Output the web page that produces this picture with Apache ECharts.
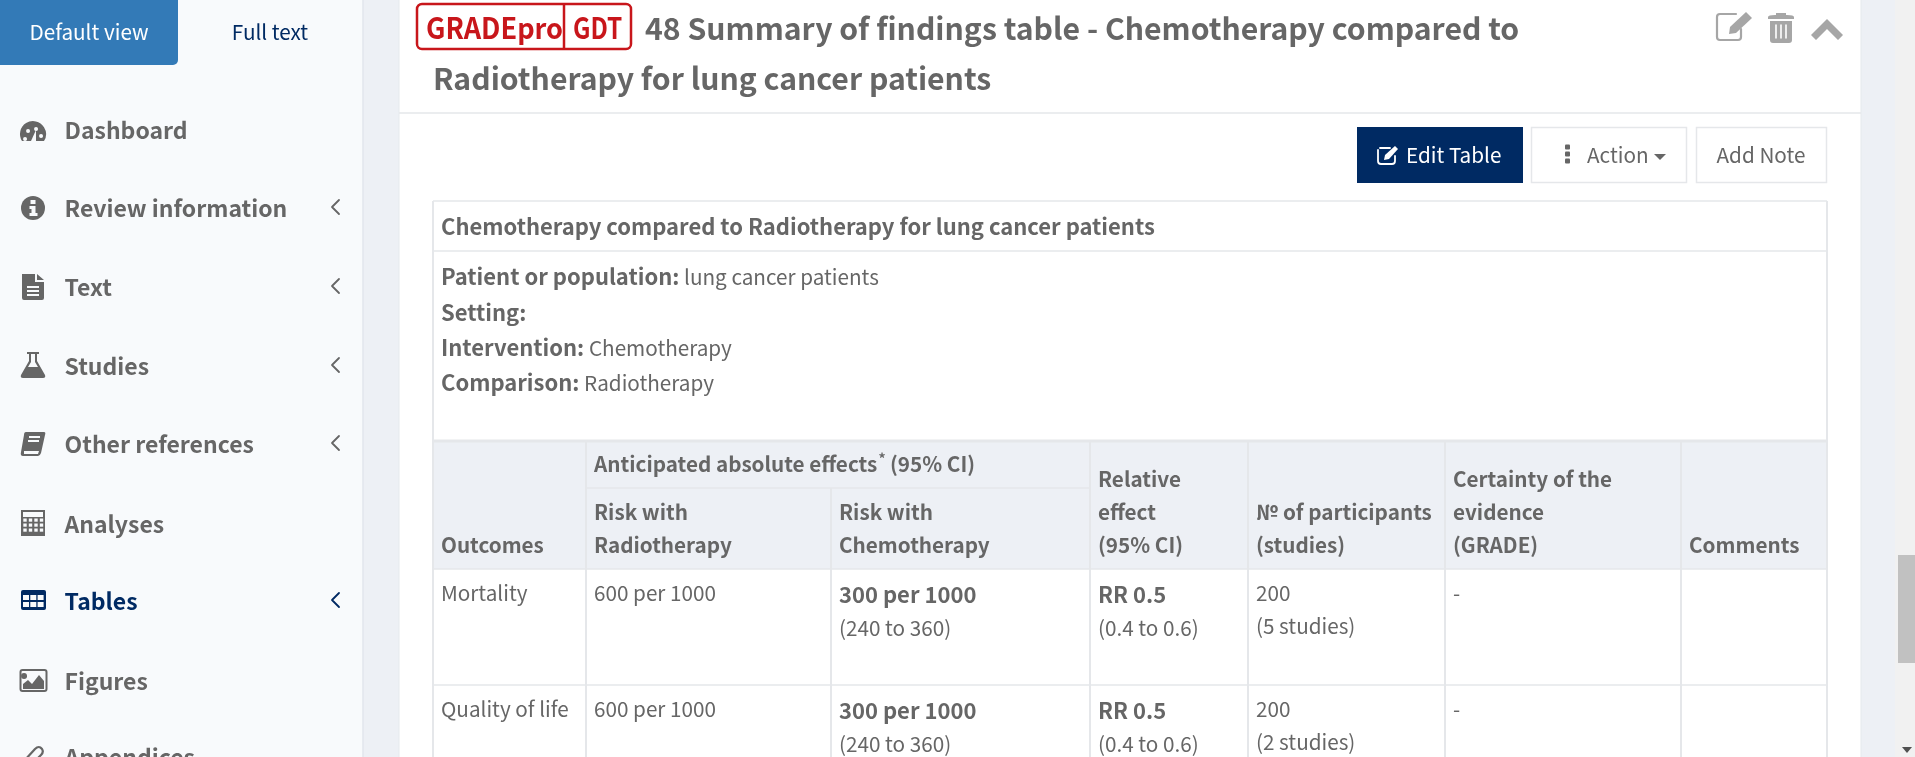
<!DOCTYPE html>
<html>
<head>
<meta charset="utf-8">
<title>Summary of findings table</title>
<script src="https://cdn.jsdelivr.net/npm/echarts@6/dist/echarts.min.js"></script>
<style>
html,body{margin:0;padding:0;overflow:hidden;background:#fff}
#main{width:1915px;height:757px}
</style>
</head>
<body>
<div id="main"></div>
<script>
// texts
var tabLabels = ['Default view', 'Full text'];
var sideItems = ['Dashboard', 'Review information', 'Text', 'Studies', 'Other references', 'Analyses', 'Tables', 'Figures', 'Appendices'];
var sideWithArrow = ['Review information', 'Text', 'Studies', 'Other references', 'Tables'];
var titleLines = ['48 Summary of findings table - Chemotherapy compared to', 'Radiotherapy for lung cancer patients'];
var logoWords = ['GRADEpro', 'GDT'];
var buttonLabels = ['Edit Table', 'Action', 'Add Note'];
var tableTitle = 'Chemotherapy compared to Radiotherapy for lung cancer patients';
var picoLabels = ['Patient or population:', 'Setting:', 'Intervention:', 'Comparison:'];
var picoValues = ['lung cancer patients', '', 'Chemotherapy', 'Radiotherapy'];
var spanHeader = ['Anticipated absolute effects', '*', '(95% CI)'];
var colHeaders = [
    ['Outcomes'],
    ['Risk with', 'Radiotherapy'],
    ['Risk with', 'Chemotherapy'],
    ['Relative', 'effect', '(95% CI)'],
    ['\u2116 of participants', '(studies)'],
    ['Certainty of the', 'evidence', '(GRADE)'],
    ['Comments']
];
var outcomes = ['Mortality', 'Quality of life'];
var riskControl = ['600 per 1000', '600 per 1000'];
var riskTreatment = ['300 per 1000', '300 per 1000'];
var riskCi = ['(240 to 360)', '(240 to 360)'];
var relEffect = ['RR 0.5', 'RR 0.5'];
var relCi = ['(0.4 to 0.6)', '(0.4 to 0.6)'];
var participants = ['200', '200'];
var studies = ['(5 studies)', '(2 studies)'];
var certainty = ['-', '-'];

// layout, px
var FONT = '"Noto Sans CJK SC","Noto Sans",sans-serif';
var GREY = '#666666', LINE = '#e5e7ea', HEAD = '#edf0f5', SIDE = '#f8fafc', NAVY = '#002a63', ICON = '#a6a6a6', RED = '#c8161b';
var BODY = 20.7, STRONG = 22; // body text, emphasised text
var sideY = [130, 208, 287, 366, 444, 524, 601, 681, 757];
var colX = [433, 586, 831, 1090, 1248, 1445, 1681, 1827];
var PAD = 8;
var rowTop = [569, 685];

var els = [];
function rect(x, y, w, h, fill, r, stroke, lw) {
    els.push({type: 'rect', shape: {x: x, y: y, width: w, height: h, r: r || 0},
        style: {fill: fill, stroke: stroke || null, lineWidth: lw || 0}, silent: true});
}
function hline(x1, x2, y, color, lw) {
    rect(x1, y - (lw || 1.5) / 2, x2 - x1, lw || 1.5, color || LINE);
}
function vline(x, y1, y2, color, lw) {
    rect(x - (lw || 1.5) / 2, y1, lw || 1.5, y2 - y1, color || LINE);
}
function txt(s, x, y, size, weight, color, align) {
    els.push({type: 'text', silent: true, style: {text: s, x: x, y: y, fontFamily: FONT, fontSize: size,
        fontWeight: weight || 'normal', fill: color || GREY, align: align || 'left', verticalAlign: 'middle'}});
}
// logo lettering is narrower than the installed fonts
function narrowTxt(s, x, y, size, color, sx) {
    els.push({type: 'text', silent: true, x: x, y: y, scaleX: sx, style: {text: s, x: 0, y: 0, fontFamily: FONT, fontSize: size,
        fontWeight: 'bold', fill: color, align: 'left', verticalAlign: 'middle'}});
}
function rich(label, value, x, y) {
    els.push({type: 'text', silent: true, style: {
        text: '{b|' + label + '}' + (value ? ' {r|' + value + '}' : ''), x: x, y: y, align: 'left', verticalAlign: 'middle',
        fontFamily: FONT, fontSize: BODY, fill: GREY,
        rich: {
            b: {fontFamily: FONT, fontSize: STRONG, fontWeight: 'bold', fill: GREY},
            r: {fontFamily: FONT, fontSize: BODY, fontWeight: 'normal', fill: GREY}
        }}});
}
function path(d, x, y, fill, stroke, lw) {
    els.push({type: 'path', x: x, y: y, silent: true, shape: {pathData: d},
        style: {fill: fill || 'none', stroke: stroke || null, lineWidth: lw || 0, lineCap: 'round', lineJoin: 'round'}});
}
function chevronLeft(x, y, color) {
    path('M4 -7 L-3 0 L4 7', x, y, 'none', color, 1.8);
}

// page background
rect(0, 0, 1915, 757, HEAD);
rect(0, 0, 363, 757, SIDE);
vline(363, 0, 757, '#e2e6ec', 1.5);
rect(399, 0, 1462, 757, '#ffffff');
vline(399, 0, 757, '#e6e9ee', 1);
vline(1861, 0, 757, '#e6e9ee', 1);

// scrollbar
rect(1895, 0, 20, 757, '#f1f1f1');
rect(1898, 555, 17, 108, '#c1c1c1');
path('M-5 -3 L5 -3 L0 3 Z', 1907, 750, '#505050');

// tabs
rect(-6, -6, 184, 71, '#337ab7', 5);
txt(tabLabels[0], 89, 32, BODY, 'normal', '#ffffff', 'center');
txt(tabLabels[1], 270, 32, BODY, 'normal', NAVY, 'center');

// side menu
sideItems.forEach(function (name, i) {
    var active = name === 'Tables';
    txt(name, 64.5, sideY[i], 23, 'bold', active ? NAVY : GREY);
    if (sideWithArrow.indexOf(name) >= 0) chevronLeft(335, sideY[i] - 1, active ? NAVY : GREY);
});
// dashboard gauge
path('M-11 7 A13 13 0 1 1 11 7 Z', 33, 134, GREY);
path('M-8 3 a2 2 0 1 0 .1 0 M-5 -5 a2 2 0 1 0 .1 0 M3 -7 a2 2 0 1 0 .1 0 M8 0 a2 2 0 1 0 .1 0', 33, 134, SIDE);
path('M-2 7 L3 -4 L3 7 Z', 33, 134, SIDE);
// info
path('M-12 0 A12 12 0 1 1 12 0 A12 12 0 1 1 -12 0 Z', 33, 208, GREY);
path('M-2.5 -8 h5 v4 h-5 Z M-3.5 -2 h6 v7 h2 v3 h-8 v-3 h2 v-4 h-2 Z', 33, 208, SIDE);
// document
path('M-11 -13 H2 V-5 H11 V11 Q11 13 9 13 H-9 Q-11 13 -11 11 Z M4 -13 L11 -7 H4 Z', 33, 287, GREY);
path('M-6 -1 H6 V1 H-6 Z M-6 3 H6 V5 H-6 Z M-6 7 H6 V9 H-6 Z', 33, 287, SIDE);
// flask
path('M-6 -13 H6 V-11 H4 V-4 L12 10 Q13 13 10 13 H-10 Q-13 13 -12 10 L-4 -4 V-11 H-6 Z', 33, 365, GREY);
path('M-2 -11 H2 V-3 L5 2 H-5 L-2 -3 Z', 33, 365, SIDE);
// book
path('M-7 -12 H11 Q13 -12 12 -9 L8 9 Q7 12 5 12 H-10 Q-13 12 -12 8 L-9 -9 Q-9 -12 -7 -12 Z', 33, 444, GREY);
path('M-4 -8 H7 V-6 H-4 Z M-5 -4 H6 V-2 H-5 Z M-9 7 H6 L5 10 H-9 Z', 33, 444, SIDE);
// calculator
path('M-12 -13 H12 V13 H-12 Z', 33, 523, GREY);
path('M-10 -11 H10 V-6 H-10 Z', 33, 523, SIDE);
[-8, -2.5, 3, 8.5].forEach(function (cx) {
    [-3, 2, 7].forEach(function (cy) {
        rect(33 + cx - 1.7, 523 + cy - 1.5, 3.4, 3.2, SIDE);
    });
});
// tables
rect(21, 590, 25, 20, NAVY, 2);
[0, 1].forEach(function (r) {
    [0, 1, 2].forEach(function (c) {
        rect(23 + c * 7.3, 595 + r * 7, 6, 5, SIDE);
    });
});
// image
rect(20.5, 670, 26, 21, SIDE, 2, GREY, 2);
path('M-10 8 V3 L-5 -1 L-1 3 L6 -6 L11 0 V8 Z', 33, 681, GREY);
path('M-9 -8 a3 3 0 1 0 .1 0', 33, 681, GREY);
// paperclip, cut off by the window
path('M-9 9 L2 -3 Q6 -7 9 -3 Q11 0 8 3 L2 9', 33, 752, 'none', GREY, 2.2);

// panel header
hline(399, 1861, 113, LINE, 1.5);
rect(417, 4, 214, 45, '#ffffff', 5, RED, 2.5);
vline(564, 4, 49, RED, 2.5);
narrowTxt(logoWords[0], 426, 28, 29, RED, 0.935);
narrowTxt(logoWords[1], 573, 28, 29, RED, 0.84);
txt(titleLines[0], 645, 29, 30.2, 'bold', GREY);
txt(titleLines[1], 433, 79, 30.2, 'bold', GREY);

// edit, trash, collapse
path('M-15 -12 H1 M-18 -9 V11 Q-18 14 -15 14 H3 Q6 14 6 11 V3 M-15 -12 Q-18 -12 -18 -9', 1735, 26, 'none', ICON, 2.2);
path('M-6 8 L-5 1 L11 -14 L17 -8 L1 7 Z', 1735, 26, ICON);
path('M-13 -11 Q-13 -13 -6 -13 H6 Q13 -13 13 -11 V-9 H-13 Z M-5 -13 V-15 H5 V-13 Z M-11 -7 H11 V12 Q11 15 8 15 H-8 Q-11 15 -11 12 Z', 1781, 28, ICON);
path('M-5 -3 V10 M0 -3 V10 M5 -3 V10', 1781, 28, 'none', '#ffffff', 1.6);
path('M-16 6 L-11 11 L0 0 L11 11 L16 6 L0 -10 Z', 1827, 29, ICON);

// buttons
rect(1357, 127, 166, 56, NAVY);
path('M-8 -7 H2 M-10 -5 V6 Q-10 9 -7 9 H4 Q7 9 7 6 V1', 1388, 155, 'none', '#ffffff', 1.8);
path('M-4 5 L-3 0 L7 -9 L10 -6 L1 4 Z', 1388, 155, '#ffffff');
txt(buttonLabels[0], 1406, 155, BODY, 'normal', '#ffffff');
rect(1531.5, 127.5, 155, 55, '#ffffff', 0, LINE, 1.5);
[147, 154, 161].forEach(function (y) { rect(1565, y - 2.5, 5, 5, GREY, 1); });
txt(buttonLabels[1], 1587, 155, BODY, 'normal', GREY);
path('M-6 -3 H6 L0 3 Z', 1660, 157, GREY);
rect(1696.5, 127.5, 130, 55, '#ffffff', 0, LINE, 1.5);
txt(buttonLabels[2], 1761, 155, BODY, 'normal', GREY, 'center');

// table frame and title rows
hline(433, 1827, 201, LINE, 1.5);
hline(433, 1827, 251, LINE, 1.5);
[277, 313, 348, 383].forEach(function (y, i) {
    rich(picoLabels[i], picoValues[i], 441, y);
});
txt(tableTitle, 441, 227, STRONG, 'bold', GREY);

// header block
rect(433, 441, 1394, 128, HEAD);
hline(433, 1827, 441, LINE, 3);
hline(433, 1827, 569, LINE, 1.5);
hline(586, 1090, 488, LINE, 1.5);
hline(433, 1827, 685, LINE, 1.5);
colX.forEach(function (x, i) {
    if (i === 0 || i === colX.length - 1) { vline(x, 201, 757, LINE, 2); return; }
    vline(x, i === 2 ? 488 : 441, 757, LINE, 2);
});
txt(spanHeader[0], 594, 464, BODY, 'bold', GREY);
txt(spanHeader[1], 882, 459, 14, 'bold', GREY, 'center');
txt(spanHeader[2], 890, 464, BODY, 'bold', GREY);
var headBottom = 545, headLine = 33;
colHeaders.forEach(function (lines, c) {
    lines.forEach(function (s, i) {
        txt(s, colX[c] + PAD, headBottom - (lines.length - 1 - i) * headLine, BODY, 'bold', GREY);
    });
});

// body rows
outcomes.forEach(function (name, r) {
    var y1 = rowTop[r] + 24, y2 = rowTop[r] + 59, y3 = rowTop[r] + 57;
    txt(name, colX[0] + PAD, y1, BODY);
    txt(riskControl[r], colX[1] + PAD, y1, BODY);
    txt(riskTreatment[r], colX[2] + PAD, y1 + 2, STRONG, 'bold');
    txt(riskCi[r], colX[2] + PAD, y2, BODY);
    txt(relEffect[r], colX[3] + PAD, y1 + 2, STRONG, 'bold');
    txt(relCi[r], colX[3] + PAD, y2, BODY);
    txt(participants[r], colX[4] + PAD, y1, BODY);
    txt(studies[r], colX[4] + PAD, y3, BODY);
    txt(certainty[r], colX[5] + PAD, y1, BODY);
});

var chart = echarts.init(document.getElementById('main'));
chart.setOption({
    animation: false,
    series: [{
        type: 'custom',
        coordinateSystem: 'none',
        silent: true,
        clip: false,
        data: [0],
        renderItem: function () {
            return {type: 'group', children: els};
        }
    }]
});
</script>
</body>
</html>
